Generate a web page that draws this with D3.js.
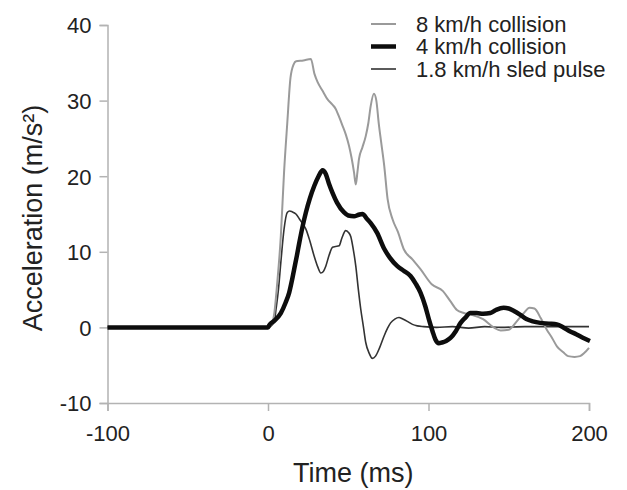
<!DOCTYPE html>
<html>
<head>
<meta charset="utf-8">
<script src="https://cdn.jsdelivr.net/npm/d3@7"></script>
<style>
  body { margin: 0; background: #fff; }
  svg { display: block; font-family: Arial, "Liberation Sans", Helvetica, sans-serif; }
  .axis path, .axis line { stroke: #b3b3b3; stroke-width: 1.5; }
  .axis text { fill: #222; font-size: 22px; }
</style>
</head>
<body>
<div id="chart"></div>
<script>
// tick labels
var xTicks = [-100, 0, 100, 200];
var yTicks = [-10, 0, 10, 20, 30, 40];

var seriesNames = ["8 km/h collision", "4 km/h collision", "1.8 km/h sled pulse"];

// [time ms, acceleration m/s²]
var collision8 = [
  [-100, 0], [0, 0], [2, 0.3], [4, 2], [5.6, 5.5], [8, 12.1], [10, 20.5], [12, 27], [14, 33], [16, 34.8],
  [17.5, 35.2], [22, 35.3], [26.7, 35.5], [29, 33.5], [31, 32.4], [34, 31.3], [37, 30.2], [40, 29.5],
  [42.2, 28.9], [44, 28], [46.4, 26.7], [48.5, 25.5], [50.5, 24], [52, 22.5], [53.6, 20.5], [54.7, 18.9],
  [55.7, 20.5], [56.7, 22.3], [58.8, 23.8], [60.9, 25.3], [62.5, 27], [64, 29.3], [66, 30.9], [67.5, 30],
  [69, 27], [70.5, 24.5], [72.4, 21.4], [74.5, 17], [77.6, 14.3], [81, 12.6], [84.7, 10.3], [90, 9],
  [95, 7.7], [102, 5.7], [109, 4.8], [113.5, 3.5], [117.7, 2.3], [122, 1.9], [126, 1.7], [134, 1.1],
  [140.6, 0], [145, -0.4], [150, -0.3], [155, 0.8], [159, 1.8], [163, 2.6], [166, 2.5], [170, 1.2],
  [173.7, -0.3], [177, -1.4], [180, -2.5], [184, -3.3], [187, -3.8], [191, -3.9], [194.4, -3.8],
  [197, -3.4], [200, -2.7]
];

var collision4 = [
  [-100, 0], [0, 0], [0.8, 0.3], [4, 0.9], [8, 1.9], [11, 3.3], [13.2, 4.6], [15, 6.3], [16.3, 7.7],
  [18, 9.5], [19.5, 11.2], [21.5, 13.3], [23.6, 15.2], [26, 17], [28.8, 18.7], [31.5, 20], [34, 20.8],
  [36, 20.3], [38, 19], [40.2, 17.8], [43, 16.5], [47.4, 15.2], [50, 14.8], [53.6, 14.7], [56.5, 14.9],
  [58.8, 15], [61.9, 14.3], [64, 13.8], [68, 12.5], [72.4, 10.4], [76, 9.2], [80.6, 8.1], [84.5, 7.5],
  [88.8, 6.8], [92, 5.8], [95, 4.6], [98, 2.8], [100.2, 1.1], [102.5, -0.5], [104.3, -1.6], [106.4, -2.1],
  [108.5, -2], [111, -1.8], [113.7, -1.4], [117, -0.5], [120, 0.6], [123, 1.3], [126, 1.9], [130, 1.9],
  [134, 1.8], [138.5, 1.9], [142, 2.3], [146.8, 2.6], [150, 2.5], [153, 2.2], [157, 1.7], [161, 1.1],
  [165, 0.8], [169.6, 0.6], [175, 0.5], [180, 0.4], [184, 0], [188, -0.5], [192, -0.9], [196.5, -1.4],
  [200.6, -1.8]
];

var sled18 = [
  [-100, 0], [0, 0], [2, 0.2], [4, 0.8], [5, 2.4], [6.5, 5], [8, 8.6], [10, 13], [12, 15.2], [13.5, 15.4],
  [15, 15.3], [17.4, 15], [20, 14.2], [23.6, 13], [26, 11.5], [28.8, 9.4], [31, 8], [32.9, 7.2],
  [34.5, 7.4], [36, 8.1], [38, 9.5], [40.2, 10.6], [42, 10.7], [44.3, 10.8], [46, 11.8], [48.4, 12.8],
  [50, 12.6], [51.6, 12], [53, 10.5], [54.7, 8.1], [56.3, 5], [57.8, 2.4], [59.5, 0], [60.9, -2],
  [63, -3.4], [65, -4.1], [67, -3.8], [69.5, -2.7], [72.4, -1.1], [74.5, -0.1], [76.4, 0.6], [79, 1.1],
  [81.6, 1.3], [84, 1.1], [86.8, 0.8], [90, 0.4], [93, 0.2], [97, 0.1], [105, 0], [115, 0.1],
  [125, -0.1], [135, 0.1], [145, 0], [160, 0.1], [175, 0.1], [190, 0.1], [200, 0.1]
];

var width = 627,
    height = 490,
    margin = { top: 25, right: 38, bottom: 87, left: 107.5 };

var svg = d3.select("#chart").append("svg")
    .attr("width", width)
    .attr("height", height);

var x = d3.scaleLinear().domain([-100, 200]).range([margin.left, width - margin.right]);
var y = d3.scaleLinear().domain([-10, 40]).range([height - margin.bottom, margin.top]);

// plain hyphen for negatives, like the original
var fmt = function (d) { return String(d); };

// axes
svg.append("g")
    .attr("class", "axis y")
    .attr("transform", "translate(" + margin.left + ",0)")
    .call(d3.axisLeft(y).tickValues(yTicks).tickFormat(fmt).tickSize(8).tickPadding(8))
    .selectAll("text").attr("dy", "0.36em");

svg.append("g")
    .attr("class", "axis x")
    .attr("transform", "translate(0," + (height - margin.bottom) + ")")
    .call(d3.axisBottom(x).tickValues(xTicks).tickFormat(fmt).tickSize(8).tickPadding(14))
    .selectAll("text").attr("dy", "0.71em");

// titles
svg.append("text")
    .attr("x", (x(-100) + x(200)) / 2 + 5)
    .attr("y", 482)
    .attr("text-anchor", "middle")
    .attr("fill", "#222")
    .style("font-size", "27px")
    .text("Time (ms)");

svg.append("text")
    .attr("transform", "translate(42," + ((y(40) + y(-10)) / 2 + 4) + ") rotate(-90)")
    .attr("text-anchor", "middle")
    .attr("fill", "#222")
    .style("font-size", "27px")
    .text("Acceleration (m/s²)");

var line = d3.line()
    .x(function (d) { return x(d[0]); })
    .y(function (d) { return y(d[1]); })
    .curve(d3.curveMonotoneX);

var styles = [
  { data: collision8, color: "#9a9a9a", w: 2 },
  { data: collision4, color: "#0d0d0d", w: 4.5 },
  { data: sled18, color: "#333", w: 1.6 }
];

// draw order: sled, 8 km/h, 4 km/h on top
[2, 0, 1].forEach(function (i) {
  svg.append("path")
      .datum(styles[i].data)
      .attr("fill", "none")
      .attr("stroke", styles[i].color)
      .attr("stroke-width", styles[i].w)
      .attr("stroke-linejoin", "round")
      .attr("d", line);
});

// legend
var legend = svg.append("g").attr("transform", "translate(371,24)");
seriesNames.forEach(function (name, i) {
  var g = legend.append("g").attr("transform", "translate(0," + (i * 22.5) + ")");
  g.append("line")
      .attr("x1", 0).attr("x2", 25)
      .attr("stroke", styles[i].color)
      .attr("stroke-width", styles[i].w);
  g.append("text")
      .attr("x", 45)
      .attr("y", 7.5)
      .attr("fill", "#222")
      .style("font-size", "22px")
      .text(name);
});
</script>
</body>
</html>
